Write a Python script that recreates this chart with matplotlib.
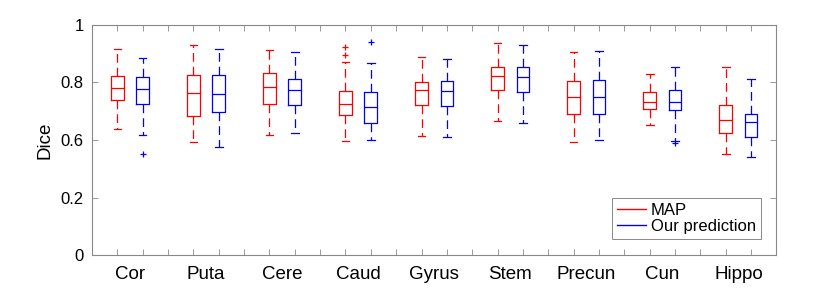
import numpy as np
import matplotlib
matplotlib.use("Agg")
import matplotlib.pyplot as plt

# regions and box statistics (Dice, label units)
regions = ['Cor', 'Puta', 'Cere', 'Caud', 'Gyrus', 'Stem', 'Precun', 'Cun', 'Hippo']

map_low = [0.637, 0.588, 0.616, 0.593, 0.614, 0.665, 0.584, 0.652, 0.500]
map_q1 = [0.738, 0.685, 0.726, 0.687, 0.722, 0.774, 0.689, 0.708, 0.623]
map_med = [0.780, 0.764, 0.785, 0.724, 0.773, 0.823, 0.750, 0.731, 0.668]
map_q3 = [0.824, 0.826, 0.832, 0.769, 0.803, 0.853, 0.806, 0.768, 0.722]
map_high = [0.917, 0.929, 0.912, 0.870, 0.888, 0.936, 0.905, 0.830, 0.853]
map_out = [[], [], [], [0.925, 0.895], [], [], [], [], []]

our_low = [0.616, 0.549, 0.623, 0.598, 0.610, 0.660, 0.598, 0.590, 0.484]
our_q1 = [0.724, 0.697, 0.721, 0.659, 0.717, 0.767, 0.692, 0.703, 0.612]
our_med = [0.778, 0.759, 0.775, 0.714, 0.770, 0.819, 0.751, 0.731, 0.663]
our_q3 = [0.818, 0.825, 0.813, 0.767, 0.804, 0.854, 0.809, 0.775, 0.692]
our_high = [0.886, 0.917, 0.905, 0.867, 0.881, 0.932, 0.909, 0.853, 0.812]
our_out = [[0.503], [], [], [0.940], [], [], [], [0.576], []]

tick_vals = [0, 0.2, 0.6, 0.8, 1]
tick_labels = ['0', '0.2', '0.6', '0.8', '1']

# the reference axis is stretched above 0.6
knots_v = [0, 0.2, 0.6, 1.0]
knots_p = [0, 1, 2, 4]


def fwd(v):
    return np.interp(v, knots_v, knots_p)


def inv(p):
    return np.interp(p, knots_p, knots_v)


def stats(low, q1, med, q3, high, out):
    res = []
    for i in range(len(low)):
        res.append(dict(whislo=low[i], q1=q1[i], med=med[i], q3=q3[i],
                        whishi=high[i], fliers=out[i]))
    return res


plt.rcParams['font.family'] = ['Liberation Sans', 'DejaVu Sans']

fig = plt.figure(figsize=(8.3, 2.91), dpi=100)
ax = fig.add_axes([0.1108, 0.1237, 0.8247, 0.7904])
ax.set_yscale('function', functions=(fwd, inv))

red = '#ff0000'
blue = '#0000ff'
n = len(regions)
pos_map = [3 * i + 1 for i in range(n)]
pos_our = [3 * i + 2 for i in range(n)]

for st, pos, c in [(stats(map_low, map_q1, map_med, map_q3, map_high, map_out), pos_map, red),
                   (stats(our_low, our_q1, our_med, our_q3, our_high, our_out), pos_our, blue)]:
    ax.bxp(st, positions=pos, widths=0.5, capwidths=0.3, manage_ticks=False,
           boxprops=dict(color=c, lw=0.9),
           medianprops=dict(color=c, lw=0.9),
           whiskerprops=dict(color=c, lw=0.9, linestyle=(0, (7, 4))),
           capprops=dict(color=c, lw=0.9),
           flierprops=dict(marker='+', markeredgecolor=c, markersize=5, markeredgewidth=0.9))

ax.plot([], [], color=red, lw=1, label='MAP')
ax.plot([], [], color=blue, lw=1, label='Our prediction')

ax.set_xlim(0, 27)
ax.set_ylim(0, 1)
ax.set_yticks(tick_vals, tick_labels)
ax.set_xticks(range(1, 27), [''] * 26)
ax.set_xticks([3 * i + 1.5 for i in range(n)], regions, minor=True)
ax.tick_params(which='major', direction='in', length=4, width=0.7, color='#999999',
               top=True, right=True, labelsize=12, pad=6)
ax.tick_params(axis='x', which='minor', length=0, labelsize=13.5, pad=8)
ax.yaxis.set_minor_locator(plt.NullLocator())
for sp in ax.spines.values():
    sp.set_color('#888888')
    sp.set_linewidth(0.8)
ax.set_ylabel('Dice', fontsize=13.5, labelpad=5)

leg = ax.legend(loc='lower right', fontsize=12, fancybox=False, framealpha=1,
                edgecolor='#888888', handlelength=1.7, handletextpad=0.3,
                borderpad=0.3, labelspacing=0.1, borderaxespad=0.95)
leg.get_frame().set_linewidth(0.7)

fig.savefig('out.png', dpi=100)
